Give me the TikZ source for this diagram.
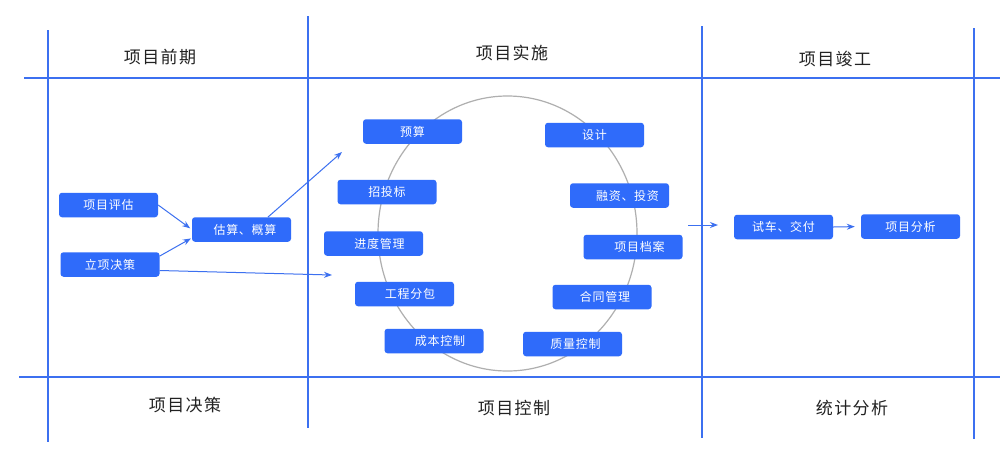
\documentclass[tikz,border=0pt]{standalone}
\usepackage{fontspec}
\setmainfont{Noto Sans CJK SC}
\usetikzlibrary{arrows.meta,calc}
\definecolor{boxblue}{RGB}{47,107,250}
\definecolor{lineblue}{RGB}{60,112,240}
\definecolor{ringgray}{RGB}{175,175,175}
\definecolor{headtext}{RGB}{34,34,34}
\tikzset{
  gridline/.style={draw=lineblue,line width=2pt},
  stepbox/.style={fill=boxblue,draw=none,rounded corners=3pt,minimum width=99pt,minimum height=24.5pt,inner sep=0pt,text=white,font=\fontsize{12pt}{14pt}\selectfont\addfontfeature{LetterSpace=6}},
  headlabel/.style={text=headtext,font=\fontsize{17pt}{20pt}\selectfont\addfontfeature{LetterSpace=8},inner sep=0pt},
  flow/.style={draw=lineblue,line width=1pt,-{Stealth[length=8pt,width=6pt]}}
}
\begin{document}
\begin{tikzpicture}[x=1pt,y=-1pt]
\useasboundingbox[fill=white] (0,0) rectangle (1000,456);
% grid
\draw[gridline] (24,78) -- (1000,78);
\draw[gridline] (19,377) -- (1000,377);
\draw[gridline] (48,30) -- (48,442);
\draw[gridline] (308,16) -- (308,428);
\draw[gridline] (701.5,26) -- (701.5,438);
\draw[gridline] (974,28) -- (974,439);
% headers
\node[headlabel] (h1) at (160,57) {项目前期};
\node[headlabel] (h2) at (512,53) {项目实施};
\node[headlabel] (h3) at (835,59) {项目竣工};
\node[headlabel] (f1) at (185,405) {项目决策};
\node[headlabel] (f2) at (514,408) {项目控制};
\node[headlabel] (f3) at (852,408) {统计分析};
% ring
\draw[ringgray,line width=1.2pt] (507.5,233.5) ellipse [x radius=129.5, y radius=137.5];
% boxes
\node[stepbox] (pinggu) at (108.5,205) {项目评估};
\node[stepbox] (lixiang) at (110,264.5) {立项决策};
\node[stepbox] (gusuan) at (241.5,229.5) {\hspace*{7pt}估算、概算};
\node[stepbox] (yusuan) at (412.5,131.5) {预算};
\node[stepbox] (sheji) at (594.5,135) {设计};
\node[stepbox] (zhaotou) at (387,192) {招投标};
\node[stepbox] (rongzi) at (619.5,195.5) {\hspace*{16pt}融资、投资};
\node[stepbox] (jindu) at (373.5,243.5) {\hspace*{12pt}进度管理};
\node[stepbox] (dangan) at (633,247) {\hspace*{13pt}项目档案};
\node[stepbox] (gongcheng) at (404.5,294) {\hspace*{11pt}工程分包};
\node[stepbox] (hetong) at (602,297) {\hspace*{6pt}合同管理};
\node[stepbox] (chengben) at (434,341) {\hspace*{12pt}成本控制};
\node[stepbox] (zhiliang) at (572.5,344) {\hspace*{6pt}质量控制};
\node[stepbox] (shiche) at (783.5,227) {试车、交付};
\node[stepbox] (fenxi) at (910.5,226.5) {项目分析};
% free ends
\coordinate (c1) at (332,275);
\coordinate (c2) at (342,152);
\coordinate (c3) at (688,225);
\coordinate (c4) at (718,225);
% connectors
\draw[flow,shorten >=2pt] (pinggu.east) -- (gusuan.west);
\draw[flow,shorten >=1pt] ([yshift=-4pt]lixiang.north east) -- ([yshift=4pt]gusuan.south west);
\draw[flow] ([yshift=-6pt]lixiang.east) -- (c1);
\draw[flow] ([xshift=26.5pt]gusuan.north) -- (c2);
\draw[flow] (c3) -- (c4);
\draw[flow,shorten >=6pt] (shiche.east) -- (fenxi.west);
\end{tikzpicture}
\end{document}
